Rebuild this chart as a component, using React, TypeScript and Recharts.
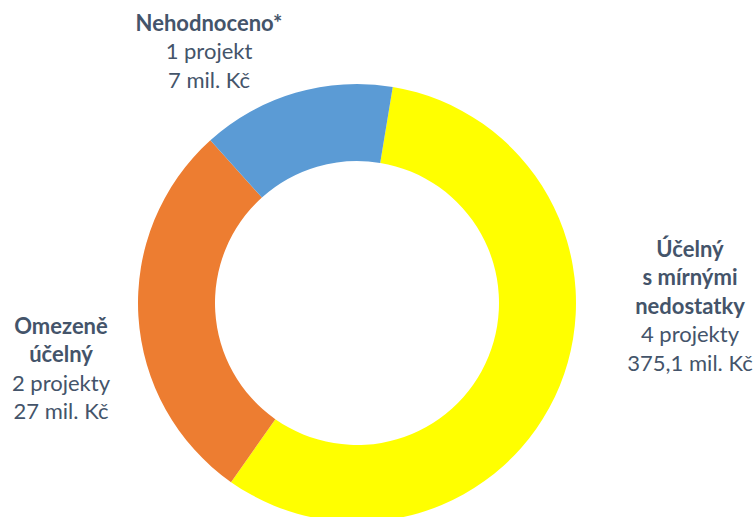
import { Cell, Pie, PieChart } from "recharts";

const categories = ["Účelný s mírnými nedostatky", "Omezeně účelný", "Nehodnoceno*"];
const projectCounts = [4, 2, 1];
const titleLines = [["Účelný", "s mírnými", "nedostatky"], ["Omezeně", "účelný"], ["Nehodnoceno*"]];
const countLabels = ["4 projekty", "2 projekty", "1 projekt"];
const amountLabels = ["375,1 mil. Kč", "27 mil. Kč", "7 mil. Kč"];

const COLORS = ["#FFFF00", "#ED7D31", "#5B9BD5"];
const TEXT = "#44546A";

// label block anchor, relative to the pie centre
const LABEL_POS = [
  { dx: 333, dy: -55 },
  { dx: -296, dy: 22 },
  { dx: -148, dy: -281 },
];

const data = categories.map((name, i) => ({ name, value: projectCounts[i] }));

const App = () => {
  const renderLabel = (props: any) => {
    const { cx, cy, index } = props;
    const pos = LABEL_POS[index];
    const x = cx + pos.dx;
    const y0 = cy + pos.dy;
    const lines = [
      ...titleLines[index].map((t) => ({ t, bold: true })),
      { t: countLabels[index], bold: false },
      { t: amountLabels[index], bold: false },
    ];
    return (
      <g key={`lbl-${index}`}>
        {lines.map((l, i) => (
          <text
            key={i}
            x={x}
            y={y0 + i * 28.5}
            fill={TEXT}
            textAnchor="middle"
            dominantBaseline="central"
            fontSize={22}
            fontWeight={l.bold ? 700 : 400}
            fontFamily="Lato, sans-serif"
          >
            {l.t}
          </text>
        ))}
      </g>
    );
  };

  return (
    <div style={{ width: 754, height: 517, background: "#fff", overflow: "hidden" }}>
      <style>{`body{margin:0}`}</style>
      <PieChart width={754} height={517} margin={{ top: 0, right: 0, bottom: 0, left: 0 }}>
        <Pie
          data={data}
          dataKey="value"
          nameKey="name"
          cx={357}
          cy={303}
          outerRadius={219}
          innerRadius={142}
          startAngle={80.6}
          endAngle={-279.4}
          stroke="none"
          label={renderLabel}
          labelLine={false}
          isAnimationActive={false}
        >
          {data.map((entry, index) => (
            <Cell key={entry.name} fill={COLORS[index]} />
          ))}
        </Pie>
      </PieChart>
    </div>
  );
};

export default App;
